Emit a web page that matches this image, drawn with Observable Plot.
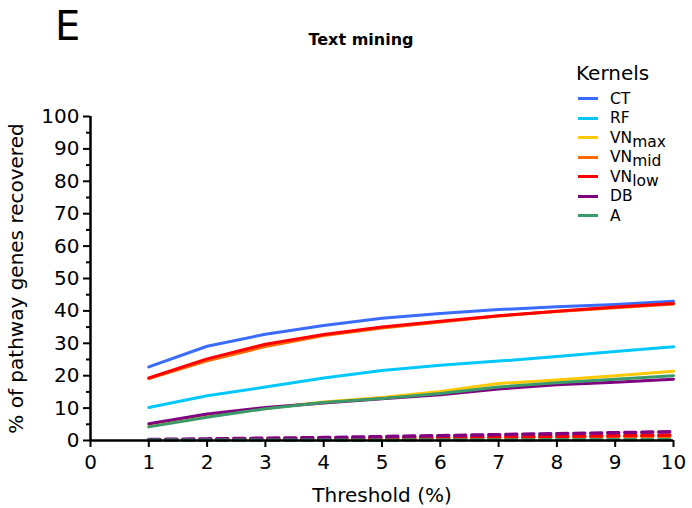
<!DOCTYPE html>
<html>
<head>
<meta charset="utf-8">
<script src="https://cdn.jsdelivr.net/npm/d3@7"></script>
<script src="https://cdn.jsdelivr.net/npm/@observablehq/plot@0.6"></script>
<style>
  body { margin: 0; background: #fff; font-family: "DejaVu Sans", sans-serif; }
  #wrap { position: relative; width: 692px; height: 508px; overflow: hidden; }
  #panel { position: absolute; left: 55px; top: 3px; font-size: 40px; color: #000; }
  #title { position: absolute; left: 0; width: 722px; top: 30px; text-align: center; font-size: 16px; font-weight: bold; }
  #legend { position: absolute; left: 576px; top: 61px; color: #000; }
  #legend .lt { font-size: 20px; margin-bottom: 4px; }
  #legend .row { height: 19.5px; display: flex; align-items: center; font-size: 15.5px; }
  #legend .sw { width: 20px; height: 3px; margin-left: 2px; margin-right: 12px; }
  #legend sub { font-size: 15.5px; vertical-align: -4px; line-height: 0; }
</style>
</head>
<body>
<div id="wrap">
  <div id="chart"></div>
  <div id="panel">E</div>
  <div id="title">Text mining</div>
  <div id="legend"></div>
</div>
<script>
// ---- data ----
const thresholds = [1, 2, 3, 4, 5, 6, 7, 8, 9, 10];
const kernels = ["CT", "RF", "VNmax", "VNmid", "VNlow", "DB", "A"];
const kernelLabels = ["CT", "RF", "VN<sub>max</sub>", "VN<sub>mid</sub>", "VN<sub>low</sub>", "DB", "A"];
const kernelColors = ["#3b6bfa", "#00c8ff", "#ffc800", "#ff6a00", "#ff0000", "#800080", "#3a9a6a"];

const CT    = [22.7, 29.1, 32.8, 35.5, 37.7, 39.2, 40.4, 41.3, 42.0, 43.0];
const RF    = [10.2, 13.8, 16.5, 19.3, 21.6, 23.2, 24.5, 25.9, 27.5, 28.9];
const VNmax = [4.5, 7.5, 9.9, 11.9, 13.3, 15.1, 17.6, 18.7, 20.0, 21.4];
const VNmid = [19.1, 24.6, 29.0, 32.4, 34.7, 36.6, 38.4, 39.8, 41.0, 42.1];
const VNlow = [19.3, 25.2, 29.7, 32.7, 35.0, 36.8, 38.5, 39.9, 41.2, 42.3];
const DB    = [5.2, 8.2, 10.2, 11.6, 12.9, 14.1, 15.9, 17.2, 18.0, 18.9];
const A     = [4.2, 7.2, 9.8, 11.7, 13.0, 14.5, 16.5, 17.8, 18.9, 20.0];

// dashed (baseline) series near zero
const dashedKernels = ["VNmid", "VNlow", "DB", "A"];
const VNmidDashed = [0.1, 0.15, 0.25, 0.4, 0.5, 0.7, 0.8, 1.0, 1.1, 1.3];
const VNlowDashed = [0.1, 0.2, 0.3, 0.5, 0.7, 0.9, 1.1, 1.3, 1.5, 1.7];
const DBDashed    = [0.3, 0.5, 0.7, 0.9, 1.2, 1.5, 1.8, 2.1, 2.4, 2.7];
const ADashed     = [0.05, 0.05, 0.1, 0.1, 0.1, 0.15, 0.15, 0.2, 0.2, 0.25];

const xTicks = [0, 1, 2, 3, 4, 5, 6, 7, 8, 9, 10];
const yTicks = [0, 10, 20, 30, 40, 50, 60, 70, 80, 90, 100];
const yMinorTicks = [5, 15, 25, 35, 45, 55, 65, 75, 85, 95];

// ---- tables ----
const solidSeries = {CT, RF, VNmax, VNmid, VNlow, DB, A};
const dashedSeries = {VNmid: VNmidDashed, VNlow: VNlowDashed, DB: DBDashed, A: ADashed};
const solid = kernels.flatMap(k => thresholds.map((t, i) => ({kernel: k, x: t, y: solidSeries[k][i]})));
const dashed = dashedKernels.flatMap(k => thresholds.map((t, i) => ({kernel: k, x: t, y: dashedSeries[k][i]})));

const colorScale = {domain: kernels, range: kernelColors};

const chart = Plot.plot({
  width: 692,
  height: 508,
  marginLeft: 90,
  marginRight: 19,
  marginTop: 116,
  marginBottom: 68,
  style: {fontFamily: "DejaVu Sans, sans-serif", fontSize: "20px", color: "#000", background: "#fff", overflow: "visible"},
  x: {domain: [0, 10], label: "Threshold (%)"},
  y: {domain: [0, 100], label: "% of pathway genes recovered"},
  color: colorScale,
  marks: [
    Plot.line(dashed, {x: "x", y: "y", z: "kernel", stroke: "kernel", strokeWidth: 3.5, strokeDasharray: "11,6"}),
    Plot.line(solid, {x: "x", y: "y", z: "kernel", stroke: "kernel", strokeWidth: 3}),
    Plot.axisX({ticks: xTicks, tickSize: 7, tickPadding: 7, strokeWidth: 2, fontSize: 20, label: "Threshold (%)", labelAnchor: "center", labelArrow: "none", labelOffset: 61, tickFormat: d3.format("d")}),
    Plot.axisY({ticks: yTicks, tickSize: 7, tickPadding: 4, strokeWidth: 2, fontSize: 20, label: "% of pathway genes recovered", labelAnchor: "center", labelArrow: "none", labelOffset: 82, tickFormat: d3.format("d")}),
    Plot.axisY({ticks: yMinorTicks, tickSize: 4, strokeWidth: 2, text: null, label: null}),
    Plot.ruleY([0], {strokeWidth: 2.5}),
    Plot.ruleX([0], {strokeWidth: 2.5})
  ]
});
document.getElementById("chart").appendChild(chart);

// ---- legend ----
const legend = document.getElementById("legend");
legend.innerHTML = '<div class="lt">Kernels</div>' + kernels.map((k, i) =>
  `<div class="row"><span class="sw" style="background:${kernelColors[i]}"></span><span>${kernelLabels[i]}</span></div>`
).join("");
</script>
</body>
</html>
